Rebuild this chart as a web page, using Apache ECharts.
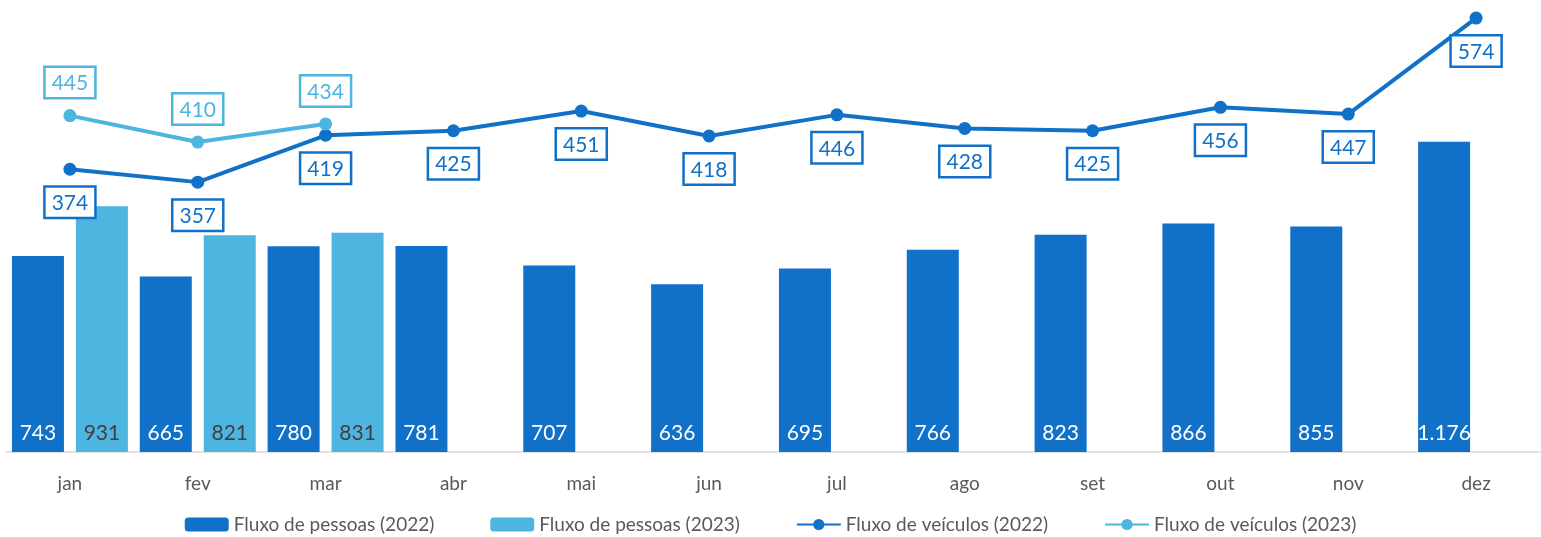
<!DOCTYPE html>
<html><head><meta charset="utf-8">
<script src="https://cdn.jsdelivr.net/npm/echarts@6/dist/echarts.min.js"></script>
<style>html,body{margin:0;padding:0;background:#fff}#c{width:1541px;height:537px}</style>
</head><body><div id="c"></div>
<script>
const categories = ['jan','fev','mar','abr','mai','jun','jul','ago','set','out','nov','dez'];
const pessoas2022 = [743,665,780,781,707,636,695,766,823,866,855,1176];
const pessoas2023 = [931,821,831,null,null,null,null,null,null,null,null,null];
const veiculos2022 = [374,357,419,425,451,418,446,428,425,456,447,574];
const veiculos2023 = [445,410,434,null,null,null,null,null,null,null,null,null];
const names = ['Fluxo de pessoas (2022)','Fluxo de pessoas (2023)','Fluxo de veículos (2022)','Fluxo de veículos (2023)'];

const DARK = '#1170C8', LIGHT = '#4DB5E0';
const FONT = 'Lato';
const fmt = v => v.toLocaleString('de-DE');

const chart = echarts.init(document.getElementById('c'));
function boxLabel(color, pos){
  return {show:true, position:pos, distance:12, color:color, fontSize:21, fontFamily:FONT,
    backgroundColor:'#fff', borderColor:color, borderWidth:2.5, padding:[5,6,3,6]};
}
chart.setOption({
  animation:false,
  textStyle:{fontFamily:FONT},
  grid:{left:6, right:1, top:10, bottom:85, containLabel:false},
  xAxis:{type:'category', data:categories,
    axisLine:{lineStyle:{color:'#D9D9D9', width:1.5}}, axisTick:{show:false},
    axisLabel:{color:'#595959', fontSize:19, margin:22, fontFamily:FONT}},
  yAxis:[
    {type:'value', min:0, max:1675, show:false, splitLine:{show:false}},
    {type:'value', min:0, max:584.7, show:false, splitLine:{show:false}}
  ],
  legend:{bottom:-2, left:'center', itemGap:56, itemWidth:44, itemHeight:14,
    textStyle:{color:'#595959', fontSize:19, fontFamily:FONT}, data:names},
  series:[
    {name:names[0], type:'bar', data:pessoas2022, barWidth:52, barGap:'23%', itemStyle:{color:DARK},
      label:{show:true, position:'insideBottom', distance:8, color:'#fff', fontSize:21, fontFamily:FONT, formatter:p=>fmt(p.value)}},
    {name:names[1], type:'bar', data:pessoas2023, barWidth:52, itemStyle:{color:LIGHT},
      label:{show:true, position:'insideBottom', distance:8, color:'#404040', fontSize:21, fontFamily:FONT, formatter:p=>fmt(p.value)}},
    {name:names[2], type:'line', yAxisIndex:1, data:veiculos2022, symbol:'circle', symbolSize:13, clip:false,
      lineStyle:{color:DARK, width:4}, itemStyle:{color:DARK}, label:boxLabel(DARK,'bottom'), z:5},
    {name:names[3], type:'line', yAxisIndex:1, data:veiculos2023, symbol:'circle', symbolSize:13, clip:false,
      lineStyle:{color:LIGHT, width:4}, itemStyle:{color:LIGHT}, label:boxLabel(LIGHT,'top'), z:6}
  ]
});
</script></body></html>
